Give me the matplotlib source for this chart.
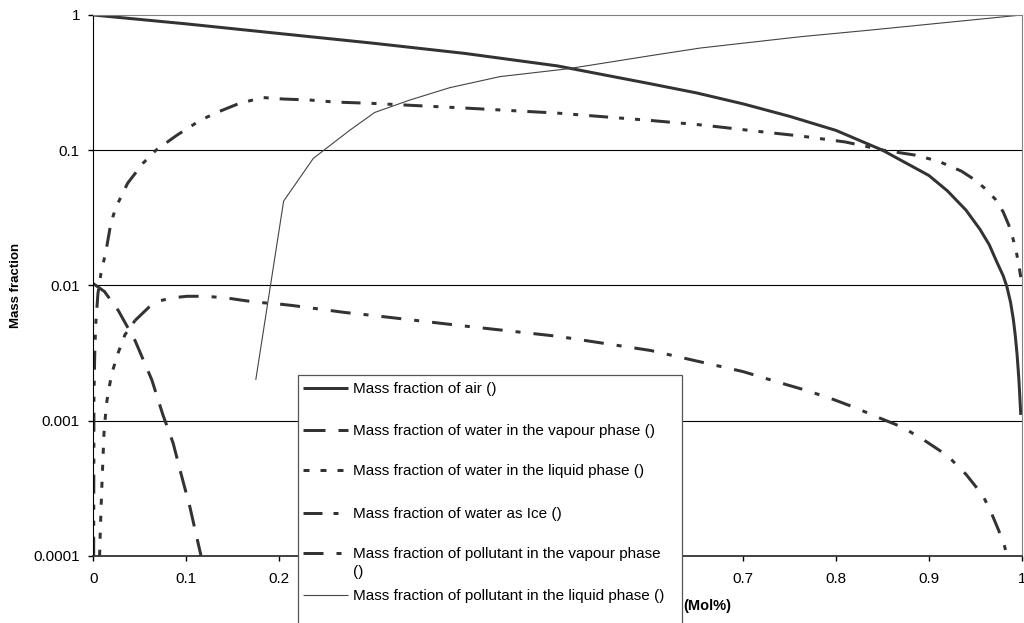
import matplotlib
matplotlib.use("Agg")
import matplotlib.pyplot as plt
from matplotlib.lines import Line2D
from matplotlib.patches import Rectangle
from matplotlib.ticker import FixedLocator, FixedFormatter, NullLocator

plt.rcParams["font.family"] = ["Liberation Sans", "DejaVu Sans"]
plt.rcParams["lines.scale_dashes"] = False

# ---- data -------------------------------------------------------------
air_x = [0, 0.1, 0.2, 0.3, 0.4, 0.5, 0.6, 0.65, 0.7, 0.75, 0.8, 0.85,
         0.9, 0.92, 0.94, 0.955, 0.965, 0.973, 0.98, 0.984, 0.988, 0.991,
         0.993, 0.995, 0.997, 0.999]
air_y = [1.0, 0.86, 0.73, 0.62, 0.52, 0.42, 0.31, 0.265, 0.22, 0.178, 0.14, 0.10,
         0.065, 0.05, 0.036, 0.026, 0.02, 0.015, 0.0118, 0.0098, 0.0075, 0.0056,
         0.0043, 0.0031, 0.002, 0.0011]

vap_water_x = [0, 0.012, 0.027, 0.045, 0.063, 0.075, 0.086, 0.0955, 0.104, 0.113, 0.116]
vap_water_y = [0.0103, 0.0090, 0.0065, 0.0039, 0.0020, 0.0011, 0.00068, 0.00038,
               0.00023, 0.000123, 0.0001]

liq_water_x = [0.0068, 0.0075, 0.009, 0.0115, 0.014, 0.0166, 0.0205, 0.027, 0.034, 0.045]
liq_water_y = [0.0001, 0.00015, 0.0003, 0.0008, 0.0013, 0.0017, 0.0023, 0.0032, 0.0043, 0.0055]

ice_x = [0.0004, 0.0007, 0.0015, 0.0025, 0.005, 0.0083, 0.0137, 0.019, 0.0245, 0.037,
         0.0535, 0.0675, 0.09, 0.115, 0.133, 0.158, 0.183, 0.205, 0.233, 0.26, 0.3,
         0.4, 0.5, 0.6, 0.658, 0.715, 0.763, 0.81, 0.851, 0.885, 0.91, 0.935, 0.95,
         0.962, 0.972, 0.98, 0.986, 0.99, 0.994, 0.997, 0.999]
ice_y = [0.0001, 0.0015, 0.003, 0.005, 0.0087, 0.0123, 0.018, 0.029, 0.038, 0.057,
         0.080, 0.1, 0.129, 0.166, 0.19, 0.223, 0.245, 0.239, 0.235, 0.227, 0.222,
         0.205, 0.188, 0.166, 0.153, 0.138, 0.127, 0.115, 0.1, 0.092, 0.083, 0.07,
         0.06, 0.051, 0.043, 0.035, 0.028, 0.023, 0.018, 0.014, 0.0115]

vap_poll_x = [0.045, 0.06, 0.072, 0.086, 0.101, 0.12, 0.142, 0.158, 0.176, 0.198, 0.214,
              0.242, 0.271, 0.3, 0.4, 0.5, 0.6, 0.7, 0.74, 0.768, 0.795, 0.82, 0.846,
              0.872, 0.897, 0.92, 0.94, 0.958, 0.967, 0.975, 0.981, 0.984]
vap_poll_y = [0.0055, 0.0069, 0.0077, 0.0081, 0.0083, 0.0083, 0.0081, 0.0078, 0.0075,
              0.0073, 0.0071, 0.0067, 0.0063, 0.0060, 0.0050, 0.0042, 0.0033, 0.0023,
              0.0019, 0.00167, 0.00145, 0.00125, 0.00105, 0.00089, 0.0007, 0.00055,
              0.0004, 0.00028, 0.00021, 0.000155, 0.000122, 0.0001]

liq_poll_x = [0.175, 0.205, 0.237, 0.276, 0.303, 0.341, 0.384, 0.438, 0.511, 0.6,
              0.654, 0.761, 0.834, 1.0]
liq_poll_y = [0.002, 0.042, 0.087, 0.14, 0.19, 0.235, 0.29, 0.35, 0.40, 0.50,
              0.57, 0.69, 0.77, 1.0]

labels = [
    "Mass fraction of air ()",
    "Mass fraction of water in the vapour phase ()",
    "Mass fraction of water in the liquid phase ()",
    "Mass fraction of water as Ice ()",
    "Mass fraction of pollutant in the vapour phase\n()",
    "Mass fraction of pollutant in the liquid phase ()",
]

x_ticks = [0, 0.1, 0.2, 0.3, 0.4, 0.5, 0.6, 0.7, 0.8, 0.9, 1]
x_tick_labels = ["0", "0.1", "0.2", "0.3", "0.4", "0.5", "0.6", "0.7", "0.8", "0.9", "1"]
y_ticks = [0.0001, 0.001, 0.01, 0.1, 1]
y_tick_labels = ["0.0001", "0.001", "0.01", "0.1", "1"]

# ---- styles (dash lengths in points) ------------------------------------
PX = 0.72
INK = "#333333"
styles = [
    dict(color=INK, lw=3 * PX, ls="-"),
    dict(color=INK, lw=3 * PX, ls=(0, (22 * PX, 13 * PX))),
    dict(color=INK, lw=3 * PX, ls=(0, (6 * PX, 11 * PX))),
    dict(color=INK, lw=3 * PX, ls=(0, (19 * PX, 11 * PX, 5 * PX, 11 * PX, 5 * PX, 11 * PX))),
    dict(color=INK, lw=3 * PX, ls=(0, (20 * PX, 13 * PX, 5 * PX, 13 * PX))),
    dict(color="#444444", lw=0.8, ls="-"),
]
series = [(air_x, air_y), (vap_water_x, vap_water_y), (liq_water_x, liq_water_y),
          (ice_x, ice_y), (vap_poll_x, vap_poll_y), (liq_poll_x, liq_poll_y)]

W, H = 1024, 623
fig = plt.figure(figsize=(W / 100, H / 100), dpi=100)
x0, x1, ytop, ybot = 93.3, 1021.7, 15.0, 555.7
ax = fig.add_axes([x0 / W, 1 - ybot / H, (x1 - x0) / W, (ybot - ytop) / H])

for (xs, ys), st in zip(series, styles):
    ax.plot(xs, ys, color=st["color"], lw=st["lw"], ls=st["ls"],
            solid_capstyle="butt", dash_capstyle="butt", solid_joinstyle="round")

ax.set_yscale("log")
ax.set_xlim(0, 1)
ax.set_ylim(0.0001, 1)
ax.xaxis.set_major_locator(FixedLocator(x_ticks))
ax.xaxis.set_major_formatter(FixedFormatter(x_tick_labels))
ax.yaxis.set_major_locator(FixedLocator(y_ticks))
ax.yaxis.set_major_formatter(FixedFormatter(y_tick_labels))
ax.yaxis.set_minor_locator(NullLocator())
ax.xaxis.set_minor_locator(NullLocator())
ax.tick_params(axis="both", direction="out", length=5 * PX, width=1, labelsize=11,
               colors="black")
ax.tick_params(axis="y", pad=6)
ax.tick_params(axis="x", pad=8)

for y in y_ticks[1:-1]:
    ax.axhline(y, color="black", lw=0.8, zorder=0.5)

ax.spines["top"].set_color("#808080")
ax.spines["right"].set_color("#808080")
ax.spines["left"].set_color("black")
ax.spines["bottom"].set_color("#333333")
ax.spines["bottom"].set_linewidth(1.3)

ax.set_ylabel("Mass fraction", fontsize=9.5, fontweight="bold")
ax.yaxis.set_label_coords((22 - x0) / (x1 - x0), 0.5)

fig.text(683 / W, 1 - 606 / H, "(Mol%)", fontsize=10.5, fontweight="bold",
         ha="left", va="center")

# ---- legend box drawn over the axes -------------------------------------
box_left, box_right, box_top = 298, 682, 375
box = Rectangle((box_left / W, 1 - 640 / H), (box_right - box_left) / W, (640 - box_top) / H,
                transform=fig.transFigure, facecolor="white", edgecolor="#555555",
                lw=0.9, zorder=5, clip_on=False)
fig.add_artist(box)

# tick labels lying under the legend box are covered by it
for tick_val, tl in zip(x_ticks, ax.get_xticklabels()):
    px = x0 + tick_val * (x1 - x0)
    if box_left - 15 < px < box_right + 15:
        tl.set_visible(False)

rows = [388, 430, 470, 513, 553, 595]
for lab, st, ry in zip(labels, styles, rows):
    fy = 1 - ry / H
    fig.add_artist(Line2D([303 / W, 348 / W], [fy, fy], transform=fig.transFigure,
                          color=st["color"], lw=st["lw"], ls=st["ls"],
                          solid_capstyle="butt", dash_capstyle="butt", zorder=6))
    fig.text(353 / W, 1 - (ry - 6) / H, lab, fontsize=11, ha="left",
             va="top", linespacing=1.35, zorder=7)

fig.savefig("out.png", dpi=100)
